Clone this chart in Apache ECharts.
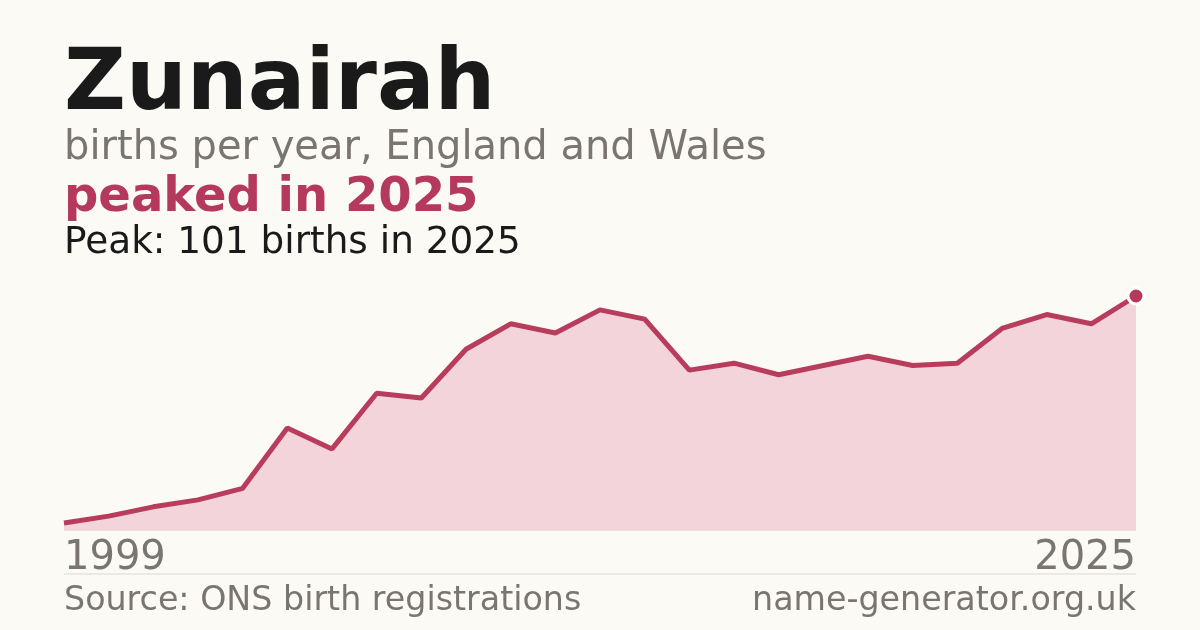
<!DOCTYPE html>
<html><head><meta charset="utf-8">
<script src="https://cdn.jsdelivr.net/npm/echarts@6/dist/echarts.min.js"></script>
<style>html,body{margin:0;padding:0;background:#fbfaf5}#c{width:1200px;height:630px}</style>
</head><body><div id="c"></div>
<script>
const years = ['1999','2002','2003','2004','2005','2006','2007','2008','2009','2010','2011','2012','2013','2014','2015','2016','2017','2018','2019','2020','2021','2022','2023','2024','2025'];
const births = [3,6,10,13,18,44,35,59,57,78,89,85,95,91,69,72,67,71,75,71,72,87,93,89,101];
const titleText = 'Zunairah';
const subtitleText = 'births per year, England and Wales';
const headlineText = 'peaked in 2025';
const peakText = 'Peak: 101 births in 2025';
const sourceText = 'Source: ONS birth registrations';
const siteText = 'name-generator.org.uk';

const F = 'DejaVu Sans';
const chart = echarts.init(document.getElementById('c'));
const lastIdx = births.length - 1;
chart.setOption({
  backgroundColor: '#fbfaf5',
  animation: false,
  grid: {left: 64, right: 64, top: 296, bottom: 100},
  xAxis: {
    type: 'category', data: years, boundaryGap: false,
    axisLine: {show: true, lineStyle: {color: '#e6e3dc', width: 1}},
    axisTick: {show: false},
    axisLabel: {
      interval: function(i){ return i === 0 || i === lastIdx; },
      color: '#7a766f', fontFamily: F, fontSize: 40, margin: 9,
      alignMinLabel: 'left', alignMaxLabel: 'right'
    },
    splitLine: {show: false}
  },
  yAxis: {type: 'value', min: 0, max: 101, show: false, splitLine: {show: false}},
  series: [{
    type: 'line', data: births.map((v,i)=> i===lastIdx ? {value:v, symbol:'circle', symbolSize:16, itemStyle:{color:'#b5395a', borderColor:'#ffffff', borderWidth:3}} : {value:v, symbol:'none'}),
    showSymbol: true,
    lineStyle: {color: '#b83d5d', width: 5},
    areaStyle: {color: '#f2d4da', opacity: 1},
    z: 3
  }],
  graphic: [
    {type:'text', left:64, top:44, style:{text:titleText, font:'bold 85.5px "DejaVu Sans"', fill:'#1a1a1a'}},
    {type:'text', left:64, top:129, style:{text:subtitleText, font:'40px "DejaVu Sans"', fill:'#7a766f'}},
    {type:'text', left:64, top:175, style:{text:headlineText, font:'bold 48px "DejaVu Sans"', fill:'#b5395a'}},
    {type:'text', left:64, top:225, style:{text:peakText, font:'37.4px "DejaVu Sans"', fill:'#1a1a1a'}},
    {type:'line', shape:{x1:64, y1:574, x2:1136, y2:574}, style:{stroke:'#dcd9d2', lineWidth:1}},
    {type:'text', left:64, top:585, style:{text:sourceText, font:'33.3px "DejaVu Sans"', fill:'#7a766f'}},
    {type:'text', right:64, top:585, style:{text:siteText, font:'33.3px "DejaVu Sans"', fill:'#7a766f'}}
  ]
});
</script></body></html>
